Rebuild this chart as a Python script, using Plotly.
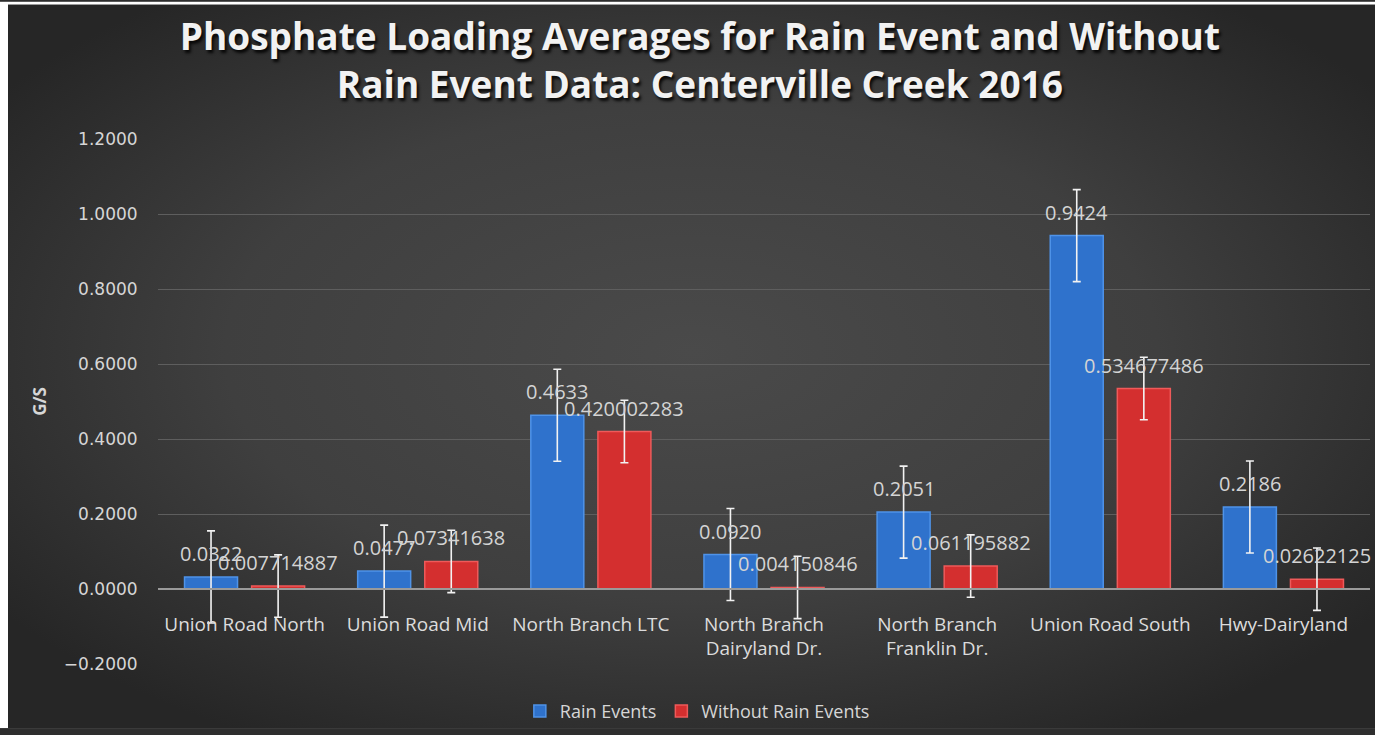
import base64
import numpy as np
import plotly.graph_objects as go

# Sampling sites along Centerville Creek
sites = [
    "Union Road North",
    "Union Road Mid",
    "North Branch LTC",
    "North Branch<br>Dairyland Dr.",
    "North Branch<br>Franklin Dr.",
    "Union Road South",
    "Hwy-Dairyland",
]

# Average phosphate loading (g/s)
rain_events = [0.0322, 0.0477, 0.4633, 0.0920, 0.2051, 0.9424, 0.2186]
without_rain = [0.007714887, 0.07341638, 0.420002283, 0.004150846,
                0.061195882, 0.534677486, 0.02622125]

y_ticks = [-0.2, 0.0, 0.2, 0.4, 0.6, 0.8, 1.0, 1.2]

# Standard-error error bars: one value per series
def std_err(vals):
    a = np.asarray(vals)
    return float(a.std(ddof=1) / np.sqrt(len(a)))

rain_se = std_err(rain_events)
dry_se = std_err(without_rain)

W, H = 1375, 735
ML, MR, MT, MB = 158, 5, 139, 65
PW, PH = W - ML - MR, H - MT - MB

BARGAP = 0.225
GROUPGAP = 0.21
slot = (1 - BARGAP) / 2
x_pos = list(range(len(sites)))

BLUE = "#2f72cc"
RED = "#d42f2f"
LABEL = "#d4d4d4"

fig = go.Figure()
fig.add_trace(go.Bar(
    name="Rain Events", x=x_pos, y=rain_events,
    marker=dict(color=BLUE, line=dict(color="#4f93e8", width=1.5)),
    error_y=dict(type="constant", value=rain_se, color="#f2f2f2",
                 thickness=1.6, width=4),
))
fig.add_trace(go.Bar(
    name="Without Rain Events", x=x_pos, y=without_rain,
    marker=dict(color=RED, line=dict(color="#ee5a5a", width=1.5)),
    error_y=dict(type="constant", value=dry_se, color="#f2f2f2",
                 thickness=1.6, width=4),
))

# Value labels above each bar
def fmt_general(v):
    return f"{v:.9f}".rstrip("0")

label_font = dict(family="Open Sans", size=20, color=LABEL)
annotations = []
for i, (r, d) in enumerate(zip(rain_events, without_rain)):
    annotations.append(dict(x=i - slot / 2, y=r, text=f"{r:.4f}",
                            xref="x", yref="y", showarrow=False,
                            yanchor="bottom", yshift=8, font=label_font))
    annotations.append(dict(x=i + slot / 2, y=d, text=fmt_general(d),
                            xref="x", yref="y", showarrow=False,
                            yanchor="bottom", yshift=8, font=label_font))

# Dark radial-gradient chart background
svg = f"""<svg xmlns='http://www.w3.org/2000/svg' width='{W}' height='{H}'>
<defs><radialGradient id='g' cx='50%' cy='48%' r='62%'>
<stop offset='0' stop-color='#4a4a4a'/><stop offset='0.55' stop-color='#3f3f3f'/>
<stop offset='1' stop-color='#262626'/></radialGradient></defs>
<rect width='{W}' height='{H}' fill='#ffffff'/>
<rect x='8' y='3' width='{W - 8}' height='{H - 3}' fill='url(#g)'/>
</svg>"""
bg_uri = "data:image/svg+xml;base64," + base64.b64encode(svg.encode()).decode()

fig.update_layout(
    width=W, height=H,
    margin=dict(l=ML, r=MR, t=MT, b=MB),
    paper_bgcolor="#2e2e2e",
    plot_bgcolor="rgba(0,0,0,0)",
    barmode="group", bargap=BARGAP, bargroupgap=GROUPGAP,
    images=[dict(source=bg_uri, xref="paper", yref="paper",
                 x=-ML / PW, y=1 + MT / PH, sizex=W / PW, sizey=H / PH,
                 xanchor="left", yanchor="top", sizing="stretch", layer="below")],
    title=dict(
        text="Phosphate Loading Averages for Rain Event and Without<br>"
             "Rain Event Data: Centerville Creek 2016",
        x=0.509, xref="container", xanchor="center",
        y=0.932, yref="container", yanchor="top",
        font=dict(family="Open Sans", size=37, color="#f2f2f2", weight="bold",
                  shadow="2px 3px 3px rgba(0,0,0,0.85)"),
    ),
    xaxis=dict(
        range=[-0.5, len(sites) - 0.5],
        tickvals=x_pos, ticktext=sites,
        anchor="free", position=0.2 / 1.4,
        showline=True, linecolor="#9a9a9a", linewidth=1.5,
        showgrid=False, zeroline=False,
        ticks="outside", ticklen=18, tickcolor="rgba(0,0,0,0)",
        tickfont=dict(family="Open Sans", size=19, color="#dcdcdc"),
    ),
    yaxis=dict(
        range=[-0.2, 1.2], tickvals=y_ticks, tickformat=".4f",
        showgrid=True, gridcolor="#5e5e5e", gridwidth=1,
        zeroline=False, showline=False,
        ticks="outside", ticklen=16, tickcolor="rgba(0,0,0,0)",
        tickfont=dict(family="DejaVu Sans", size=17, color="#d6d6d6"),
        title=dict(text="G/S", standoff=12,
                   font=dict(family="Open Sans", size=17, color="#d6d6d6",
                             weight="bold")),
    ),
    legend=dict(
        orientation="h", x=0.445, xanchor="center", y=-0.09, yanchor="middle",
        font=dict(family="Open Sans", size=18, color="#d6d6d6"),
        bgcolor="rgba(0,0,0,0)", itemwidth=30,
    ),
    annotations=annotations,
)

fig.write_html("out.html")
